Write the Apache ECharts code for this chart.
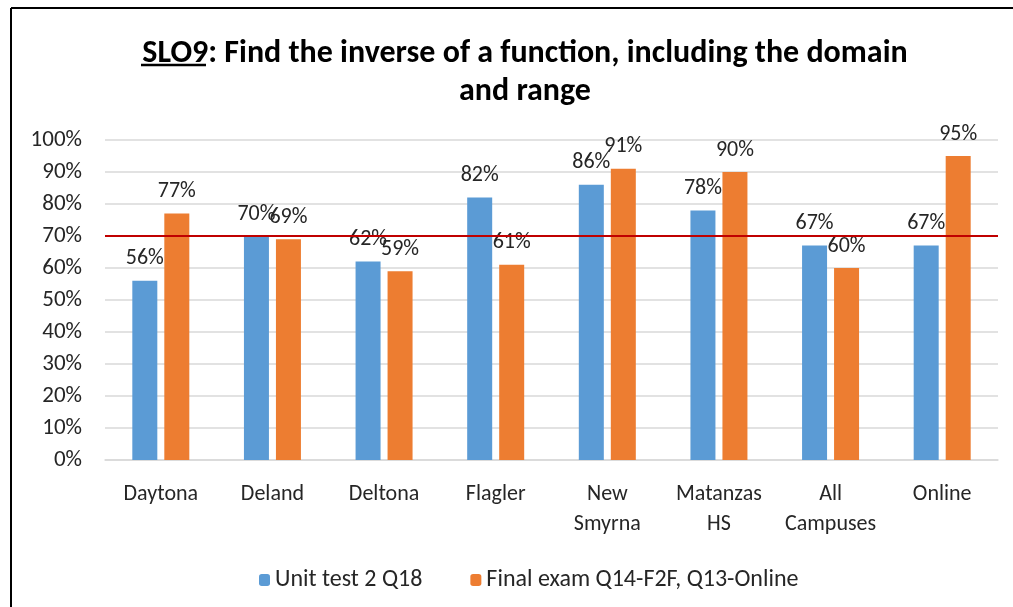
<!DOCTYPE html>
<html>
<head>
<meta charset="utf-8">
<script src="https://cdn.jsdelivr.net/npm/echarts@6/dist/echarts.min.js"></script>
<style>
  html, body { margin: 0; padding: 0; background: #fff; }
  #chart { width: 1013px; height: 607px; }
</style>
</head>
<body>
<div id="chart"></div>
<script>
const campuses = ['Daytona', 'Deland', 'Deltona', 'Flagler', 'New\nSmyrna', 'Matanzas\nHS', 'All\nCampuses', 'Online']
const unitTest = [56, 70, 62, 82, 86, 78, 67, 67]
const finalExam = [77, 69, 59, 61, 91, 90, 60, 95]
const target = 70
const seriesNames = ['Unit test 2 Q18', 'Final exam Q14-F2F, Q13-Online']

const font = 'Carlito, Lato, sans-serif'
const chart = echarts.init(document.getElementById('chart'))

const labelStyle = {
  show: true,
  position: 'top',
  distance: 11,
  formatter: '{c}%',
  fontFamily: font,
  fontSize: 22,
  color: '#262626'
}

chart.setOption({
  animation: false,
  title: {
    text: 'SLO9: Find the inverse of a function, including the domain\nand range',
    left: 520,
    textAlign: 'center',
    top: 30,
    textStyle: {
      fontFamily: font,
      fontSize: 32,
      fontWeight: 'bold',
      color: '#000',
      lineHeight: 38
    }
  },
  graphic: [
    { type: 'line', shape: { x1: 11, y1: 8, x2: 1013, y2: 8 }, style: { stroke: '#000', lineWidth: 2 } },
    { type: 'line', shape: { x1: 11, y1: 8, x2: 11, y2: 607 }, style: { stroke: '#000', lineWidth: 2 } },
    // underline under "SLO9" in the title
    { type: 'line', shape: { x1: 141, y1: 65, x2: 206, y2: 65 }, style: { stroke: '#000', lineWidth: 2.5 } }
  ],
  legend: {
    top: 563,
    left: 254,
    itemWidth: 11,
    itemHeight: 12,
    itemGap: 48,
    textStyle: { fontFamily: font, fontSize: 24, color: '#262626' },
    data: seriesNames
  },
  grid: { left: 105, right: 15, top: 140, bottom: 147 },
  xAxis: {
    type: 'category',
    data: campuses,
    axisLine: { lineStyle: { color: '#D9D9D9', width: 1.5 } },
    axisTick: { show: false },
    axisLabel: { interval: 0, fontFamily: font, fontSize: 22, color: '#262626', margin: 19, lineHeight: 30 }
  },
  yAxis: {
    type: 'value',
    min: 0,
    max: 100,
    interval: 10,
    axisLine: { show: false },
    axisTick: { show: false },
    splitLine: { lineStyle: { color: '#D9D9D9', width: 1.5 } },
    axisLabel: { formatter: '{value}%', fontFamily: font, fontSize: 23, color: '#262626', margin: 23 }
  },
  series: [
    {
      name: seriesNames[0],
      type: 'bar',
      data: unitTest,
      barWidth: 25,
      barGap: '28%',
      itemStyle: { color: '#5B9BD5' },
      label: labelStyle,
      markLine: {
        silent: true,
        symbol: 'none',
        label: { show: false },
        lineStyle: { color: '#C00000', width: 2, type: 'solid' },
        data: [{ yAxis: target }]
      }
    },
    {
      name: seriesNames[1],
      type: 'bar',
      data: finalExam,
      barWidth: 25,
      itemStyle: { color: '#ED7D31' },
      label: labelStyle
    }
  ]
})
</script>
</body>
</html>
